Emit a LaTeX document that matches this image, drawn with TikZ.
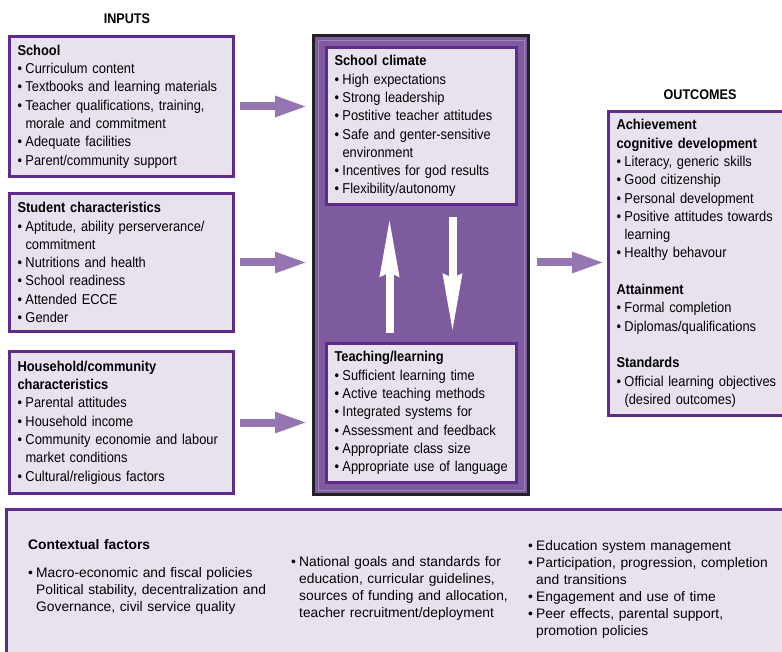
\documentclass[tikz,border=0pt]{standalone}
\usepackage{fontspec}
\setmainfont[FakeStretch=0.9]{Liberation Sans}
\newfontfamily\ctxfont{Liberation Sans}
\usetikzlibrary{arrows.meta}

\definecolor{boxline}{HTML}{5E2D8C}
\definecolor{boxfill}{HTML}{E8E2EF}
\definecolor{corefill}{HTML}{7E5B9E}
\definecolor{coreline}{HTML}{222222}
\definecolor{arrowfill}{HTML}{9676B2}

\newlength\bulletw \setlength\bulletw{8pt}
\newcommand\itm[1]{\par\hangindent=\bulletw\hangafter=1\noindent\makebox[\bulletw][l]{\textbullet}#1\par}

\begin{document}
\begin{tikzpicture}[x=1pt,y=-1pt]

\useasboundingbox (0,0) rectangle (782,652);

\tikzstyle{inbox}=[draw=boxline, line width=3pt, fill=boxfill, anchor=north west, align=left, inner xsep=8pt, inner ysep=8pt, font=\fontsize{14.3}{18.3}\selectfont]
\tikzstyle{title}=[font=\fontsize{14}{16}\selectfont\bfseries]
\tikzstyle{fat}=[draw=arrowfill, line width=8pt, -{Triangle[width=19pt,length=33pt]}]
\tikzstyle{whitearrow}=[draw=white, line width=8pt, -{Stealth[width=18pt,length=58pt,inset=3pt]}]
\tikzstyle{ctxcol}=[anchor=north west, inner sep=0pt, align=left, font=\ctxfont\fontsize{13.8}{17}\selectfont]

% Inputs
\node[title] (inputs) at (127,19) {INPUTS};
\node[inbox, text width=208pt, minimum height=140pt] (school) at (8,35) {{\bfseries School}
\itm{Curriculum content}
\itm{Textbooks and learning materials}
\itm{Teacher qualifications, training,\newline morale and commitment}
\itm{Adequate facilities}
\itm{Parent/community support}};
\node[inbox, text width=208pt, minimum height=138pt] (student) at (8,192) {{\bfseries Student characteristics}
\itm{Aptitude, ability perserverance/\newline commitment}
\itm{Nutritions and health}
\itm{School readiness}
\itm{Attended ECCE}
\itm{Gender}};
\node[inbox, text width=208pt, minimum height=142pt] (household) at (8,350) {{\bfseries Household/community\\characteristics}
\itm{Parental attitudes}
\itm{Household income}
\itm{Community economie and labour\newline market conditions}
\itm{Cultural/religious factors}};

% Core
\node[draw=coreline, line width=3pt, fill=corefill, anchor=north west, minimum width=215pt, minimum height=459pt, inner sep=0pt] (core) at (312,34) {};
\draw[corefill!75!white, line width=0.8pt] ([shift={(6pt,-6pt)}]core.north west) rectangle ([shift={(-6pt,6pt)}]core.south east);
\node[inbox, text width=174pt, minimum height=156pt] (climate) at (325,46) {{\bfseries School climate}
\itm{High expectations}
\itm{Strong leadership}
\itm{Postitive teacher attitudes}
\itm{Safe and genter-sensitive\newline environment}
\itm{Incentives for god results}
\itm{Flexibility/autonomy}};
\node[inbox, text width=174pt, minimum height=136pt] (teaching) at (325,342) {{\bfseries Teaching/learning}
\itm{Sufficient learning time}
\itm{Active teaching methods}
\itm{Integrated systems for}
\itm{Assessment and feedback}
\itm{Appropriate class size}
\itm{Appropriate use of language}};

\draw[whitearrow, shorten <=9pt, shorten >=11pt] ([xshift=-32pt]teaching.north) -- ([xshift=-32pt]climate.south);
\draw[whitearrow, shorten <=11pt, shorten >=9pt] ([xshift=31pt]climate.south) -- ([xshift=31pt]teaching.north);

% Outcomes
\node[title] (outcomes) at (700,95) {OUTCOMES};
\node[inbox, text width=200pt, minimum height=302pt] (results) at (607,110) {{\bfseries Achievement\\cognitive development}
\itm{Literacy, generic skills}
\itm{Good citizenship}
\itm{Personal development}
\itm{Positive attitudes towards\newline learning}
\itm{Healthy behavour}
\vspace{18.3pt}
{\bfseries Attainment}
\itm{Formal completion}
\itm{Diplomas/qualifications}
\vspace{18.3pt}
{\bfseries Standards}
\itm{Official learning objectives\newline (desired outcomes)}};

% arrows in and out
\draw[fat, shorten <=5pt, shorten >=4pt] (school.east) -- (school.east -| core.west);
\draw[fat, shorten <=5pt, shorten >=4pt] (student.east) -- (student.east -| core.west);
\draw[fat, shorten <=5pt, shorten >=4pt] (household.east) -- (household.east -| core.west);
\draw[fat, shorten <=7pt, shorten >=2pt] (student.east -| core.east) -- (student.east -| results.west);

% Context
\node[draw=boxline, line width=3pt, fill=boxfill, anchor=north west, minimum width=800pt, minimum height=170pt, inner sep=0pt] (context) at (5,508) {};
\node[ctxcol, text width=240pt] (ctxleft) at (28,539) {{\bfseries Contextual factors}\par\vspace{11pt}
\itm{Macro-economic and fiscal policies\newline Political stability, decentralization and\newline Governance, civil service quality}};
\node[ctxcol, text width=220pt] (ctxmid) at (291,549) {\itm{National goals and standards for\newline education, curricular guidelines,\newline sources of funding and allocation,\newline teacher recruitment/deployment}};
\node[ctxcol, text width=250pt] (ctxright) at (528,533) {\itm{Education system management}
\itm{Participation, progression, completion\newline and transitions}
\itm{Engagement and use of time}
\itm{Peer effects, parental support,\newline promotion policies}};

\end{tikzpicture}
\end{document}
